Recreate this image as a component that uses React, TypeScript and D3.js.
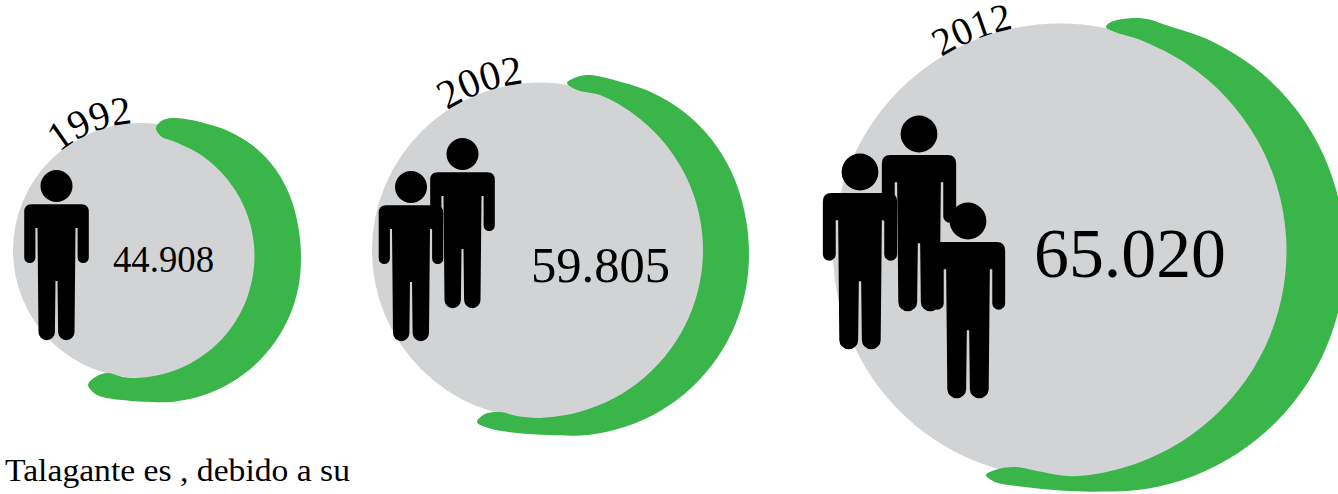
import React from "react";
import * as d3 from "d3";

const years = [1992, 2002, 2012];
const population = [44908, 59805, 65020];
const valueLabels = ["44.908", "59.805", "65.020"];
const peopleCounts = [1, 2, 3];
const note = "Talagante es , debido a su";

const W = 1338, H = 494;
const GRAY = "#d1d3d4", GREEN = "#39b54a", SERIF = "'Liberation Serif', serif";

// scales from the data to the circles
const cxScale = d3.scaleLinear().domain(years).range([140.5, 540, 1060]);
const rScale = d3.scaleLinear().domain(population).range([127.5, 168, 227]);
const cy = 250.5;

const toXY = (c: number[], r: number, deg: number): [number, number] => {
  const a = (deg * Math.PI) / 180;
  return [c[0] + r * Math.sin(a), c[1] - r * Math.cos(a)];
};

// crescent outline: two arcs joined by rounded tips
const crescents = [
  {
    oc: [158.5, 260], or: 142.5, bulge: 6, oa: [16, 186], ic: [132.5, 256], ir: 122, ia: [19, 175],
    tail: [[127, 400.5], [110, 398.5], [97, 395], [88, 385], [97, 376], [108, 373], [123, 377]],
    head: [[162, 137], [156, 128], [163, 120], [175, 118], [188, 119.5]],
  },
  {
    oc: [568.5, 255.5], or: 180.5, bulge: 4, oa: [14, 186], ic: [535, 250], ir: 168, ia: [23, 178],
    tail: [[517, 433], [488, 428], [477, 422], [485, 414], [500, 412], [517, 416]],
    head: [[577, 90], [567, 83], [577, 77], [590, 75], [602, 77]],
  },
  {
    oc: [1108, 255], or: 237, bulge: 1, oa: [13.5, 183], ic: [1061, 251], ir: 225.5, ia: [21, 177],
    tail: [[1060, 490.5], [1025, 487], [995, 482], [986, 475], [995, 470], [1015, 467], [1037, 471]],
    head: [[1115, 32], [1106, 27], [1111, 22], [1133, 18], [1150, 19.5]],
  },
];

const outline = d3.line().curve(d3.curveCatmullRomClosed.alpha(0.5));

function crescentPath(s: (typeof crescents)[number]) {
  const bulge = (d: number) => (d < 90 ? s.bulge * Math.sin((d * Math.PI) / 90) ** 2 : 0);
  const outer = d3.range(s.oa[0], s.oa[1] + 0.01, (s.oa[1] - s.oa[0]) / 14).map((d) => toXY(s.oc, s.or + bulge(d), d));
  const inner = d3.range(s.ia[1], s.ia[0] - 0.01, (s.ia[0] - s.ia[1]) / 12).map((d) => toXY(s.ic, s.ir, d));
  return outline([...outer, ...(s.tail as [number, number][]), ...inner, ...(s.head as [number, number][])]) as string;
}

// one standing figure, drawn around its head centre
function personBody() {
  const p = d3.path();
  p.moveTo(-25, 18.3);
  p.lineTo(25, 18.3);
  p.quadraticCurveTo(32.3, 18.3, 32.3, 26);
  p.lineTo(32.3, 71.5);
  p.arc(26.7, 71.5, 5.6, 0, Math.PI);
  p.lineTo(21.1, 42);
  p.lineTo(19, 42);
  p.lineTo(18, 146);
  p.arc(9.8, 146, 8.2, 0, Math.PI);
  p.lineTo(1, 95);
  p.lineTo(-1, 95);
  p.lineTo(-1.6, 146);
  p.arc(-9.8, 146, 8.2, 0, Math.PI);
  p.lineTo(-19, 42);
  p.lineTo(-21.1, 42);
  p.lineTo(-21.1, 71.5);
  p.arc(-26.7, 71.5, 5.6, 0, Math.PI);
  p.lineTo(-32.3, 26);
  p.quadraticCurveTo(-32.3, 18.3, -25, 18.3);
  p.closePath();
  return p.toString();
}

const figureHeads = [
  [[56.5, 186]],
  [[462.5, 154], [411, 187]],
  [[919, 134], [860, 172], [968, 221]],
];
const figureScale = [1, 1, 1.15];

const valueFont = [37, 51, 70.5];
const valueX = [113, 531, 1034];
const valueW = [101, 139, 192];
const valueBase = [272, 282, 277];
const yearFont = [40, 41, 39];
const yearStart = [-39.5, -33.5, -31.5];

const yearArc = (i: number) => {
  const c = [cxScale(years[i]), cy];
  const r = rScale(population[i]);
  const p = d3.path();
  const a0 = ((yearStart[i] - 90) * Math.PI) / 180;
  p.arc(c[0], c[1], r, a0, a0 + 1.5, false);
  return p.toString();
};

export default function App() {
  const body = personBody();
  return (
    <svg width={W} height={H} viewBox={`0 0 ${W} ${H}`} style={{ position: "absolute", left: 0, top: 0, display: "block", background: "#fff" }}>
      <defs>
        {years.map((y, i) => <path key={y} id={`arc${y}`} d={yearArc(i)} />)}
      </defs>
      {years.map((y, i) => (
        <g key={y}>
          <circle cx={cxScale(y)} cy={cy} r={rScale(population[i])} fill={GRAY} />
          <path d={crescentPath(crescents[i])} fill={GREEN} />
          <text fontFamily={SERIF} fontSize={yearFont[i]} fill="#000">
            <textPath href={`#arc${y}`}>{y}</textPath>
          </text>
          {d3.range(peopleCounts[i]).map((k) => (
            <g key={k} transform={`translate(${figureHeads[i][k][0]},${figureHeads[i][k][1]}) scale(${figureScale[i]})`}>
              <circle r={16} fill="#000" />
              <path d={body} fill="#000" />
            </g>
          ))}
          <text x={valueX[i]} y={valueBase[i]} fontFamily={SERIF} fontSize={valueFont[i]} textLength={valueW[i]} lengthAdjust="spacingAndGlyphs" fill="#000">{valueLabels[i]}</text>
        </g>
      ))}
      <text x={5} y={481} fontFamily={SERIF} fontSize={32} textLength={345} lengthAdjust="spacingAndGlyphs" fill="#000">{note}</text>
    </svg>
  );
}
